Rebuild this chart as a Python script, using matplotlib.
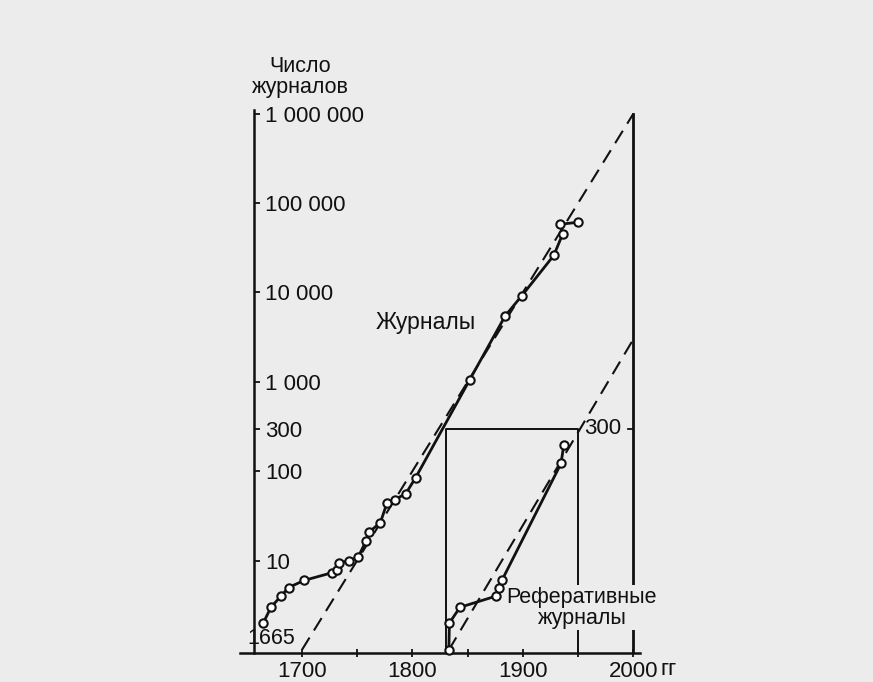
import matplotlib
matplotlib.use('Agg')
import matplotlib.pyplot as plt

# журналы (число по годам)
journal_years = [1665, 1672, 1681, 1688, 1702, 1727, 1732, 1733.5, 1743, 1751, 1758, 1761,
                 1771, 1777, 1784, 1794, 1803, 1852, 1884, 1899, 1928, 1936, 1934, 1950]
journal_counts = [2, 3, 4, 5, 6, 7.3, 7.9, 9.4, 10, 11, 16.5, 21,
                  26.5, 44, 48, 56, 85, 1060, 5470, 9180, 26000, 45000, 58000, 61000]

# реферативные журналы
abstract_years = [1833, 1833.5, 1843, 1875.5, 1878.5, 1881, 1934.5, 1937]
abstract_counts = [1, 2, 3, 4, 5, 6, 122, 195]

# пунктирные тренды
trend_years = [1700, 2000]
trend_counts = [1, 1000000]
abstract_trend_years = [1833, 2000]
abstract_trend_counts = [1, 3000]

ytick_vals = [10, 100, 300, 1000, 10000, 100000, 1000000]
ytick_labels = ['10', '100', '300', '1 000', '10 000', '100 000', '1 000 000']
xtick_vals = [1700, 1750, 1800, 1850, 1900, 1950, 2000]
xtick_labels = ['1700', '', '1800', '', '1900', '', '2000']

bg = '#ececec'
ink = '#111111'
plt.rcParams['font.family'] = ['Liberation Sans', 'DejaVu Sans']
fs = 16

fig = plt.figure(figsize=(8.73, 6.82), dpi=100, facecolor=bg)
ax = fig.add_axes([240 / 873, 29 / 682, 400 / 873, 543 / 682])
ax.set_facecolor(bg)
ax.set_yscale('log')
ybot, ytop = 0.925, 1.1e6
ax.set_xlim(1644, 2006)
ax.set_ylim(ybot, ytop)

# оси
ax.spines['top'].set_visible(False)
ax.spines['right'].set_visible(False)
ax.spines['left'].set_position(('data', 1657))
for s in ('left', 'bottom'):
    ax.spines[s].set_linewidth(1.8)
    ax.spines[s].set_color(ink)

ax.set_yticks(ytick_vals)
ax.set_yticklabels(ytick_labels)
ax.minorticks_off()
ax.tick_params(axis='y', direction='in', length=4, width=1.3, pad=-8,
               labelsize=fs, colors=ink)
for lab in ax.get_yticklabels():
    lab.set_horizontalalignment('left')

ax.set_xticks(xtick_vals)
ax.set_xticklabels(xtick_labels)
ax.tick_params(axis='x', direction='inout', length=6, width=1.3, pad=3,
               labelsize=fs, colors=ink)
ax.annotate('гг', xy=(2025, 0), xycoords=('data', 'axes fraction'),
            xytext=(0, -4.5), textcoords='offset points', ha='left', va='top',
            fontsize=fs, color=ink, annotation_clip=False)

# правая граница и прямоугольник
ax.plot([2000, 2000], [ybot, 1000000], color=ink, lw=2.0)
ax.plot([1995, 2000], [300, 300], color=ink, lw=1.3)
ax.plot([1830, 1830, 1950, 1950], [ybot, 300, 300, ybot], color=ink, lw=1.4)

# тренды
ax.plot(trend_years, trend_counts, color=ink, lw=1.5, dashes=(7, 4))
ax.plot(abstract_trend_years, abstract_trend_counts, color=ink, lw=1.5, dashes=(7, 4))

# данные
ax.plot(journal_years, journal_counts, color=ink, lw=2.0, marker='o', ms=6,
        mfc='white', mec=ink, mew=1.5, zorder=4)
ax.plot(abstract_years, abstract_counts, color=ink, lw=2.0, marker='o', ms=6,
        mfc='white', mec=ink, mew=1.5, zorder=4, clip_on=False)

# подписи
ax.text(1812, 4600, 'Журналы', ha='center', va='center', fontsize=16.5, color=ink)
ax.text(1953.5, 2.97, 'Реферативные\nжурналы', ha='center', va='center',
        multialignment='center', linespacing=1.0, fontsize=15.5, color=ink, zorder=5,
        bbox=dict(facecolor=bg, edgecolor='none', pad=1))
ax.text(1955, 300, '300', ha='left', va='center', fontsize=fs, color=ink)
ax.text(1672, 1.36, '1665', ha='center', va='center', fontsize=15.5, color=ink)
fig.text(300 / 873, 1 - 77 / 682, 'Число\nжурналов', ha='center', va='center',
         linespacing=1.05, fontsize=15.5, color=ink)

plt.savefig('out.png', dpi=100, facecolor=bg)
